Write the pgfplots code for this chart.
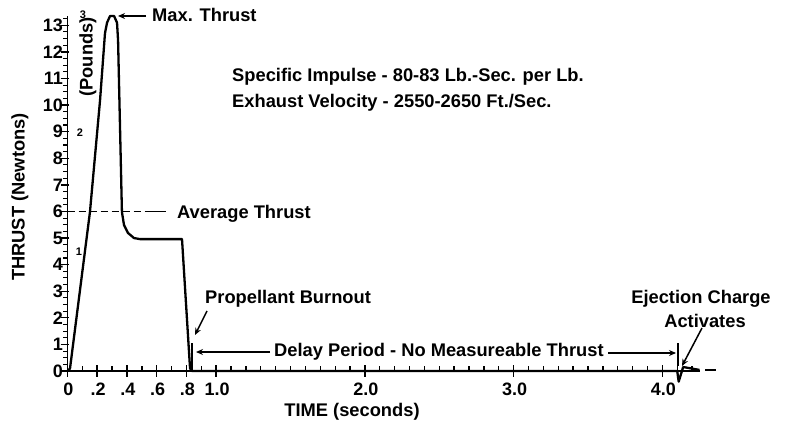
\documentclass[border=0pt]{standalone}
\usepackage{fontspec}
\setmainfont{Liberation Sans}
\usepackage{pgfplots}
\pgfplotsset{compat=1.18}
\usetikzlibrary{arrows.meta}
\newcommand\af{\bfseries\fontsize{18.3}{22}\selectfont}
\newcommand\tf{\bfseries\fontsize{18}{18}\selectfont}
\begin{document}
\begin{tikzpicture}
\useasboundingbox (0pt,0pt) rectangle (791pt,423pt);
\begin{axis}[
  at={(67.5pt,52pt)}, anchor=south west,
  scale only axis, width=632pt, height=355pt,
  xmin=0, xmax=4.25, ymin=0, ymax=13.35,
  axis x line=bottom, axis y line=left,
  axis line style={-, line width=1.6pt},
  clip=false,
  xtick={0,0.2,0.4,0.6,0.8,1,2,3,4},
  xticklabels={},
  ytick={0,1,...,13},
  major tick length=0pt, minor tick length=0pt,
  yticklabel style={font=\tf, xshift=-1pt},
  /pgf/number format/assume math mode=true,
]
% x tick marks
\pgfplotsinvokeforeach{0,0.2,0.4,0.6,0.8,1,2,3,4}{
  \addplot[line width=1.5pt, black, forget plot] coordinates {(#1,-0.22) (#1,0.22)};}
\pgfplotsinvokeforeach{0.1,0.3,0.5,0.7,0.9,1.1,1.2,1.3,1.4,1.5,1.6,1.7,1.8,1.9,2.1,2.2,2.3,2.4,2.5,2.6,2.7,2.8,2.9,3.1,3.2,3.3,3.4,3.5,3.6,3.7,3.8,3.9,4.1,4.2}{
  \addplot[line width=1.3pt, black, forget plot] coordinates {(#1,0) (#1,0.2)};}
\addplot[line width=2.3pt, black, line join=round] coordinates {
(0,0) (0.017,0.1) (0.151,5.98) (0.219,10.19) (0.252,12.7) (0.266,13.1) (0.286,13.35)
(0.313,13.35) (0.333,13.1) (0.34,12.44) (0.366,5.98) (0.38,5.49) (0.407,5.19)
(0.447,5.0) (0.487,4.96) (0.77,4.96) (0.824,0.1) (0.837,0) (4.1,0) (4.11,-0.4)
(4.14,0.15) (4.19,0.1) (4.25,0.04)
};
\addplot[line width=2pt, black] coordinates {(4.29,0.05) (4.36,0.05)};
\addplot[line width=1.6pt, black, dash pattern=on 7pt off 4pt] coordinates {(0,6) (0.555,6)};
\addplot[line width=1.6pt, black] coordinates {(0.555,6) (0.66,6)};
\end{axis}
\begin{scope}[x=1pt,y=1pt]
% y tick marks (axis origin at (67.5,52); 26.592 pt per N)
\foreach \yv in {0,1,...,13}
  \draw[line width=1.3pt] (60.5,{52+\yv*26.592}) -- ++(8,0);
\foreach \yv in {0.25,0.5,0.75,1.25,1.5,1.75,2.25,2.5,2.75,3.25,3.5,3.75,4.25,4.5,4.75,5.25,5.5,5.75,6.25,6.5,6.75,7.25,7.5,7.75,8.25,8.5,8.75,9.25,9.5,9.75,10.25,10.5,10.75,11.25,11.5,11.75,12.25,12.5,12.75,13.25}
  \draw[line width=1.1pt] (63,{52+\yv*26.592}) -- ++(4.5,0);
% x tick labels
\foreach \xv/\lab in {0/0,0.2/.2,0.4/.4,0.6/.6,0.8/.8,1/1.0,2/2.0,3/3.0,4/4.0}
  \node[anchor=base, inner sep=0, font=\tf] at ({68.5+\xv*148.706},423-395) {\lab};
% pounds scale
\node[font=\bfseries\fontsize{11}{11}\selectfont] at (79,423-252) {1};
\node[font=\bfseries\fontsize{11}{11}\selectfont] at (80,423-133) {2};
\node[font=\bfseries\fontsize{11}{11}\selectfont] at (83,423-15) {3};
\node[rotate=90, font=\af] at (88,423-57) {(Pounds)};
% axis titles
\node[rotate=90, font=\af] at (20,423-197) {THRUST (Newtons)};
\node[anchor=base, font=\af] at (352,423-416) {TIME (seconds)};
% annotations
\node[anchor=base west, inner sep=0, font=\af] at (152,423-22) {Max. Thrust};
\node[anchor=base west, inner sep=0, font=\af] at (232,423-82) {Specific Impulse - 80-83 Lb.-Sec. per Lb.};
\node[anchor=base west, inner sep=0, font=\af] at (232,423-108) {Exhaust Velocity - 2550-2650 Ft./Sec.};
\node[anchor=base west, inner sep=0, font=\af] at (177,423-219) {Average Thrust};
\node[anchor=base west, inner sep=0, font=\af] at (205,423-303) {Propellant Burnout};
\node[anchor=base west, inner sep=0, font=\af] at (274,423-356) {Delay Period - No Measureable Thrust};
\node[anchor=base, inner sep=0, font=\af] at (701,423-303) {Ejection Charge};
\node[anchor=base, inner sep=0, font=\af] at (705,423-327) {Activates};
% arrows
\draw[line width=1.5pt, -{Stealth[length=7pt,width=6pt]}] (146,423-16) -- (118,423-16);
\draw[line width=1.5pt, -{Stealth[length=7pt,width=6pt]}] (207,423-311) -- (195,423-335);
\draw[line width=1.5pt, -{Stealth[length=7pt,width=6pt]}] (270,423-352) -- (196,423-352);
\draw[line width=1.6pt] (192,423-343) -- (192,423-371);
\draw[line width=1.5pt, -{Stealth[length=7pt,width=6pt]}] (608,423-353) -- (676,423-353);
\draw[line width=1.6pt] (678,423-343) -- (678,423-366);
\draw[line width=1.5pt, -{Stealth[length=7pt,width=6pt]}] (702,423-328) -- (682,423-366);
\end{scope}
\end{tikzpicture}
\end{document}
